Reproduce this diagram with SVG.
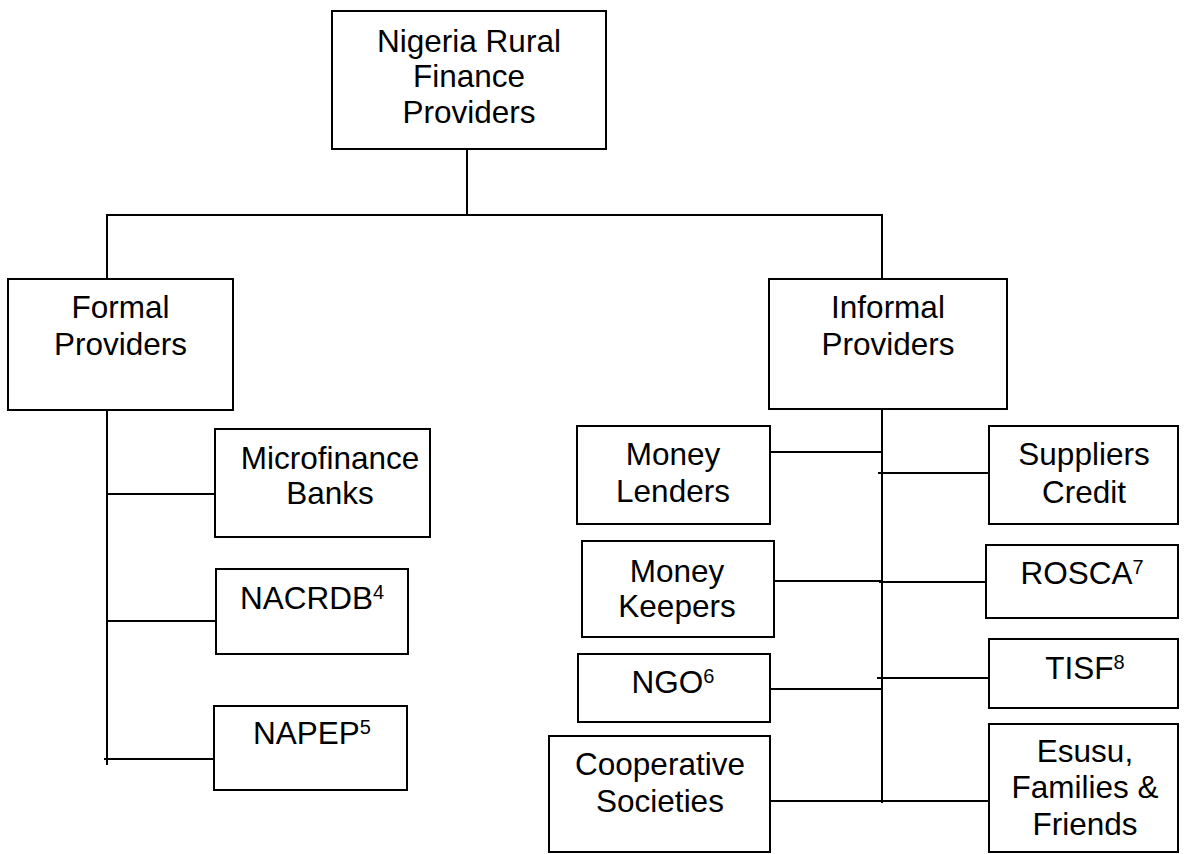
<svg xmlns="http://www.w3.org/2000/svg" width="1184" height="854" viewBox="0 0 1184 854">
<style>
.box{fill:#fff;stroke:#000;stroke-width:2}
.ln{stroke:#000;stroke-width:2;fill:none}
text{font-family:"Liberation Sans",Arial,sans-serif;font-size:31.5px;fill:#000;text-anchor:middle}
.sup{font-size:20px}
</style>
<rect width="1184" height="854" fill="#fff"/>
<g id="connectors">
<line class="ln" x1="467" y1="149" x2="467" y2="215"/>
<line class="ln" x1="106" y1="215" x2="883" y2="215"/>
<line class="ln" x1="107" y1="215" x2="107" y2="279"/>
<line class="ln" x1="882" y1="215" x2="882" y2="279"/>
<line class="ln" x1="107" y1="410" x2="107" y2="765"/>
<line class="ln" x1="107" y1="494" x2="215" y2="494"/>
<line class="ln" x1="107" y1="621" x2="216" y2="621"/>
<line class="ln" x1="104" y1="759" x2="214" y2="759"/>
<line class="ln" x1="882" y1="409" x2="882" y2="803"/>
<line class="ln" x1="770" y1="452" x2="882" y2="452"/>
<line class="ln" x1="878" y1="473" x2="989" y2="473"/>
<line class="ln" x1="774" y1="581" x2="882" y2="581"/>
<line class="ln" x1="879" y1="582" x2="986" y2="582"/>
<line class="ln" x1="877" y1="678" x2="989" y2="678"/>
<line class="ln" x1="770" y1="689" x2="882" y2="689"/>
<line class="ln" x1="770" y1="801" x2="990" y2="801"/>
</g>
<g id="root"><rect class="box" x="332" y="11" width="274" height="138"/><text x="469"><tspan x="469" y="52">Nigeria Rural</tspan><tspan x="469" y="87">Finance</tspan><tspan x="469" y="123">Providers</tspan></text></g>
<g id="formal"><rect class="box" x="8" y="279" width="225" height="131"/><text><tspan x="120.5" y="318">Formal</tspan><tspan x="120.5" y="355">Providers</tspan></text></g>
<g id="informal"><rect class="box" x="769" y="279" width="238" height="130"/><text><tspan x="888" y="318">Informal</tspan><tspan x="888" y="355">Providers</tspan></text></g>
<g id="microfinance"><rect class="box" x="215" y="429" width="215" height="108"/><text><tspan x="330" y="469">Microfinance</tspan><tspan x="330" y="504">Banks</tspan></text></g>
<g id="nacrdb"><rect class="box" x="216" y="569" width="192" height="85"/><text x="312" y="609">NACRDB<tspan class="sup" dy="-10">4</tspan></text></g>
<g id="napep"><rect class="box" x="214" y="706" width="193" height="84"/><text x="312" y="744">NAPEP<tspan class="sup" dy="-10">5</tspan></text></g>
<g id="money-lenders"><rect class="box" x="577" y="426" width="193" height="98"/><text><tspan x="673" y="465">Money</tspan><tspan x="673" y="502">Lenders</tspan></text></g>
<g id="money-keepers"><rect class="box" x="582" y="541" width="192" height="96"/><text><tspan x="677" y="582">Money</tspan><tspan x="677" y="617">Keepers</tspan></text></g>
<g id="ngo"><rect class="box" x="578" y="654" width="192" height="68"/><text x="673" y="693">NGO<tspan class="sup" dy="-10">6</tspan></text></g>
<g id="cooperative"><rect class="box" x="549" y="736" width="221" height="116"/><text><tspan x="660" y="775">Cooperative</tspan><tspan x="660" y="812">Societies</tspan></text></g>
<g id="suppliers"><rect class="box" x="989" y="426" width="189" height="98"/><text><tspan x="1084" y="465">Suppliers</tspan><tspan x="1084" y="503">Credit</tspan></text></g>
<g id="rosca"><rect class="box" x="986" y="545" width="192" height="73"/><text x="1082" y="584">ROSCA<tspan class="sup" dy="-10">7</tspan></text></g>
<g id="tisf"><rect class="box" x="989" y="639" width="189" height="69"/><text x="1085" y="679">TISF<tspan class="sup" dy="-10">8</tspan></text></g>
<g id="esusu"><rect class="box" x="989" y="724" width="189" height="128"/><text><tspan x="1085" y="762">Esusu,</tspan><tspan x="1085" y="798">Families &amp;</tspan><tspan x="1085" y="835">Friends</tspan></text></g>
</svg>
